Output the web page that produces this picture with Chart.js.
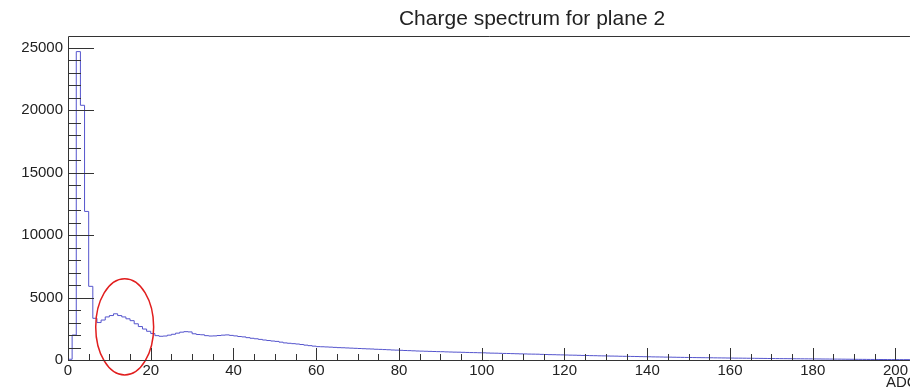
<!DOCTYPE html>
<html>
<head>
<meta charset="utf-8">
<script src="https://cdn.jsdelivr.net/npm/chart.js@4/dist/chart.umd.min.js"></script>
<style>
    body { margin: 0; background: #fff; }
    #box { width: 910px; height: 388px; }
</style>
</head>
<body>
<div id="box"><canvas id="spectre" width="910" height="388"></canvas></div>
<script>
// contenu des bins (1 bin = 1 canal ADC, à partir de 0)
const comptages = [
    0, 60, 2000, 24700, 20400, 11900, 5900, 3340, 3000, 3200,
    3450, 3560, 3700, 3560, 3450, 3300, 3150, 2900, 2680, 2480,
    2300, 2120, 1950, 1900, 1920, 1990, 2060, 2150, 2230, 2270,
    2250, 2100, 2040, 2020, 1950, 1920, 1930, 1960, 1990, 2010,
    1970, 1930, 1880, 1850, 1790, 1740, 1700, 1650, 1600, 1560,
    1520, 1490, 1430, 1370, 1340, 1310, 1280, 1240, 1190, 1150,
    1110, 1070, 1060, 1045, 1030, 1010, 990, 980, 965, 950,
    935, 920, 905, 890, 880, 860, 850, 835, 820, 800,
    790, 775, 760, 750, 735, 720, 710, 700, 690, 680,
    670, 665, 650, 640, 630, 625, 615, 605, 595, 590,
    580, 575, 560, 550, 545, 535, 525, 520, 510, 500,
    490, 485, 475, 470, 465, 450, 440, 430, 425, 415,
    410, 400, 390, 385, 375, 365, 360, 350, 345, 335,
    330, 320, 315, 310, 300, 295, 290, 285, 278, 270,
    265, 258, 250, 245, 240, 232, 228, 222, 215, 210,
    205, 200, 195, 190, 186, 182, 178, 172, 168, 164,
    160, 155, 150, 148, 144, 140, 136, 132, 128, 124,
    120, 117, 114, 110, 108, 104, 100, 98, 95, 92,
    90, 86, 83, 80, 78, 75, 72, 70, 66, 62,
    58, 55, 52, 50, 46, 44, 42, 40, 38, 36,
    34, 32, 30
];

// graduations des axes
const ticksX = [0, 20, 40, 60, 80, 100, 120, 140, 160, 180, 200];
const ticksY = [0, 5000, 10000, 15000, 20000, 25000];

const titre = "Charge spectrum for plane 2";
const titreAxeX = "ADC";

// ellipse rouge autour du second pic (en unités des axes)
const ellipseCentre = { x: 13.7, y: 2650 };
const ellipseRayon = { x: 7, y: 3850 };

const xMax = 203.5;
const yMax = 25950;

// points pour le tracé en escalier : bord bas de chaque bin + dernier bord
const points = comptages.map((v, i) => ({ x: i, y: v }));
points.push({ x: xMax, y: comptages[comptages.length - 1] });

const police = "'Liberation Sans', Arial, Helvetica, sans-serif";

// cadre, graduations vers l'intérieur (style ROOT), titre et ellipse
const cadreRoot = {
    id: "cadreRoot",
    afterDraw(chart) {
        const ctx = chart.ctx;
        const area = chart.chartArea;
        const sx = chart.scales.x;
        const sy = chart.scales.y;
        ctx.save();

        // ellipse
        const cx = sx.getPixelForValue(ellipseCentre.x);
        const cy = sy.getPixelForValue(ellipseCentre.y);
        const rx = sx.getPixelForValue(ellipseCentre.x + ellipseRayon.x) - cx;
        const ry = cy - sy.getPixelForValue(ellipseCentre.y + ellipseRayon.y);
        ctx.strokeStyle = "rgb(225, 30, 30)";
        ctx.lineWidth = 1.5;
        ctx.beginPath();
        ctx.ellipse(cx, cy, rx, ry, 0, 0, Math.PI * 2);
        ctx.stroke();

        // cadre
        ctx.strokeStyle = "#333";
        ctx.lineWidth = 1;
        ctx.beginPath();
        ctx.moveTo(area.right, area.top + 0.5);
        ctx.lineTo(area.left + 0.5, area.top + 0.5);
        ctx.lineTo(area.left + 0.5, area.bottom + 0.5);
        ctx.lineTo(area.right, area.bottom + 0.5);
        ctx.stroke();

        // graduations Y : majeures tous les 5000, mineures tous les 1000
        ctx.beginPath();
        for (let v = 0; v <= yMax; v += 1000) {
            const y = Math.round(sy.getPixelForValue(v)) + 0.5;
            const long = v % 5000 === 0 ? 26 : 13;
            ctx.moveTo(area.left, y);
            ctx.lineTo(area.left + long, y);
        }
        // graduations X : majeures tous les 20, mineures tous les 5
        for (let v = 0; v <= xMax; v += 5) {
            const x = Math.round(sx.getPixelForValue(v)) + 0.5;
            const long = v % 20 === 0 ? 12 : 6;
            ctx.moveTo(x, area.bottom);
            ctx.lineTo(x, area.bottom - long);
        }
        ctx.stroke();

        // titre et titre de l'axe X
        ctx.fillStyle = "#222";
        ctx.font = "21px " + police;
        ctx.textAlign = "center";
        ctx.textBaseline = "middle";
        ctx.fillText(titre, 532, 19);
        ctx.font = "15px " + police;
        ctx.textAlign = "left";
        ctx.fillText(titreAxeX, 886, 383);
        ctx.restore();
    }
};

new Chart(document.querySelector("#spectre"), {
    type: "line",
    data: {
        datasets: [{
            data: points,
            stepped: "after",
            borderColor: "rgb(85, 85, 205)",
            borderWidth: 1,
            pointRadius: 0,
            fill: false
        }]
    },
    options: {
        responsive: false,
        animation: false,
        layout: { padding: { top: 36, left: 0, right: 0, bottom: 0 } },
        plugins: {
            legend: { display: false },
            tooltip: { enabled: false }
        },
        scales: {
            x: {
                type: "linear",
                min: 0,
                max: xMax,
                grid: { display: false, drawTicks: false },
                border: { display: false },
                afterBuildTicks: (s) => { s.ticks = ticksX.map(v => ({ value: v })); },
                afterFit: (s) => { s.height = 28; },
                ticks: {
                    padding: 2,
                    color: "#222",
                    font: { family: police, size: 15 },
                    callback: (v) => String(v)
                }
            },
            y: {
                type: "linear",
                min: 0,
                max: yMax,
                grid: { display: false, drawTicks: false },
                border: { display: false },
                afterBuildTicks: (s) => { s.ticks = ticksY.map(v => ({ value: v })); },
                afterFit: (s) => { s.width = 68; },
                ticks: {
                    padding: 5,
                    color: "#222",
                    font: { family: police, size: 15 },
                    callback: (v) => String(v)
                }
            }
        }
    },
    plugins: [cadreRoot]
});
</script>
</body>
</html>
